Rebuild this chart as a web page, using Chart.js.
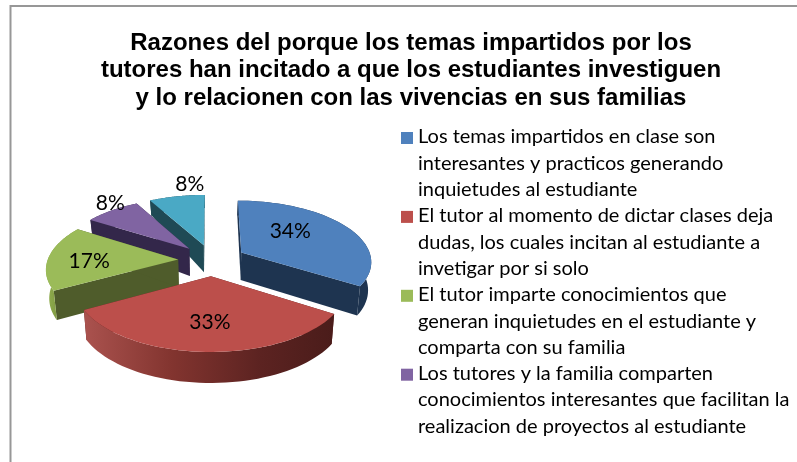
<!DOCTYPE html>
<html><head><meta charset="utf-8">
<style>html,body{margin:0;padding:0;background:#fff}canvas{display:block}</style>
<script src="https://cdn.jsdelivr.net/npm/chart.js@4"></script>
</head><body><canvas id="c" width="797" height="462"></canvas>
<script>
const titleLines = ["Razones del porque los temas impartidos por los","tutores han incitado a que los estudiantes investiguen","y lo relacionen con las vivencias en sus familias"];
const categories = ["Los temas impartidos en clase son interesantes y practicos generando inquietudes al estudiante","El tutor al momento de dictar clases deja dudas, los cuales incitan al estudiante a invetigar por si solo","El tutor imparte conocimientos que generan inquietudes en el estudiante y comparta con su familia","Los tutores y la familia comparten conocimientos interesantes que facilitan la realizacion de proyectos al estudiante",""];
const legendLines = [
  ["Los temas impartidos en clase son","interesantes y practicos generando","inquietudes al estudiante"],
  ["El tutor al momento de dictar clases deja","dudas, los cuales incitan al estudiante a","invetigar por si solo"],
  ["El tutor imparte conocimientos que","generan inquietudes en el estudiante y","comparta con su familia"],
  ["Los tutores y la familia comparten","conocimientos interesantes que facilitan la","realizacion de proyectos al estudiante"]
];
const values = [34,33,17,8,8];
const topColors = ["#4f81bd","#bc4f4b","#9bbb59","#8064a2","#4aa9c5"];
const cutColors = ["#1e3450","#5a2220","#4f5c2b","#33274a","#1f4a55"];

const EXPLODE=0.26, SX=0.903, SY=0.42, PERSP=0.134, SEG=48;
const DRAW_ORDER=[4,3,2,0,1];
const LABEL_SHIFT=[[49,-21],[-1,46],[-89,2],[-79,-46],[-14,-61]];
function depth(v){
  const t=[[-1.25,13],[-0.25,27],[0.3,29],[1.26,31]];
  if(v<=t[0][0])return t[0][1];
  for(let i=1;i<t.length;i++)if(v<=t[i][0]){const f=(v-t[i-1][0])/(t[i][0]-t[i-1][0]);return t[i-1][1]+f*(t[i][1]-t[i-1][1]);}
  return t[3][1];
}
const pie3d={
  id:'pie3d',
  beforeDatasetDraw(chart){
    const ctx=chart.ctx, arcs=chart.getDatasetMeta(0).data;
    const proj=(a,u,v)=>{const d=1-PERSP*v;return [a.x+a.outerRadius*SX*u/d,a.y+a.outerRadius*SY*v/d];};
    const low=(a,u,v)=>{const p=proj(a,u,v);return [a.x+(p[0]-a.x)*0.98,p[1]+depth(v)];};
    const poly=(pts,fill)=>{ctx.beginPath();pts.forEach((p,i)=>i?ctx.lineTo(p[0],p[1]):ctx.moveTo(p[0],p[1]));ctx.closePath();ctx.fillStyle=fill;ctx.fill();};
    const apexes=[];
    ctx.save();
    for(const i of DRAW_ORDER){
      const a=arcs[i].getProps(['x','y','startAngle','endAngle','outerRadius'],true);
      const mid=(a.startAngle+a.endAngle)/2, ex=EXPLODE*Math.cos(mid), ev=EXPLODE*Math.sin(mid);
      const rim=[];
      for(let k=0;k<=SEG;k++){const t=a.startAngle+(a.endAngle-a.startAngle)*k/SEG;rim.push([ex+Math.cos(t),ev+Math.sin(t)]);}
      const first=rim[0], last=rim[SEG];
      poly([proj(a,ex,ev),proj(a,first[0],first[1]),low(a,first[0],first[1]),low(a,ex,ev)],cutColors[i]);
      poly([proj(a,ex,ev),proj(a,last[0],last[1]),low(a,last[0],last[1]),low(a,ex,ev)],cutColors[i]);
      let fill=cutColors[i];
      if(i===1){fill=ctx.createLinearGradient(85,0,335,0);fill.addColorStop(0,'#aa524e');fill.addColorStop(0.35,'#82342f');fill.addColorStop(0.7,'#5c2321');fill.addColorStop(1,'#4a1c1a');}
      if(i===2){fill=ctx.createLinearGradient(46,0,60,0);fill.addColorStop(0,'#92b050');fill.addColorStop(1,'#7c963f');}
      poly(rim.map(r=>proj(a,r[0],r[1])).concat(rim.slice().reverse().map(r=>low(a,r[0],r[1]))),fill);
      poly([proj(a,ex,ev)].concat(rim.map(r=>proj(a,r[0],r[1]))),topColors[i]);
      apexes[i]=proj(a,ex,ev);
    }
    ctx.fillStyle='#000';ctx.font='21px Lato';ctx.textAlign='center';ctx.textBaseline='middle';
    values.forEach((val,i)=>ctx.fillText(val+'%',apexes[i][0]+LABEL_SHIFT[i][0],apexes[i][1]+LABEL_SHIFT[i][1]));
    ctx.restore();
    return false;
  },
  beforeDraw(chart){
    chart.titleBlock.left=25;chart.titleBlock.right=797;
    const ctx=chart.ctx;
    ctx.save();ctx.strokeStyle='#979797';ctx.lineWidth=2;
    ctx.beginPath();ctx.moveTo(10.5,470);ctx.lineTo(10.5,6);ctx.lineTo(800,6);ctx.stroke();
    ctx.restore();
  },
  afterDraw(chart){
    const ctx=chart.ctx;
    ctx.save();ctx.font='20px Lato';ctx.textBaseline='middle';ctx.textAlign='left';
    let row=0;
    legendLines.forEach((lines,i)=>{
      ctx.fillStyle=topColors[i];ctx.fillRect(401,137+row*26.3-5,12,12);
      ctx.fillStyle='#000';
      lines.forEach(l=>{ctx.fillText(l,418,137+row*26.3);row++;});
    });
    ctx.restore();
  }
};
new Chart(document.getElementById('c'),{
  type:'pie',
  data:{labels:categories,datasets:[{data:values,backgroundColor:topColors,borderWidth:0}]},
  options:{
    responsive:false,animation:false,
    layout:{padding:{left:25,right:398,top:0,bottom:57.5}},
    plugins:{
      legend:{display:false},tooltip:{enabled:false},
      title:{display:true,text:titleLines,color:'#000',align:'center',
        font:{family:'"Liberation Sans"',size:24,weight:'bold',lineHeight:1.146},
        padding:{top:29.5,bottom:3.5}}
    }
  },
  plugins:[pie3d]
});
</script></body></html>
